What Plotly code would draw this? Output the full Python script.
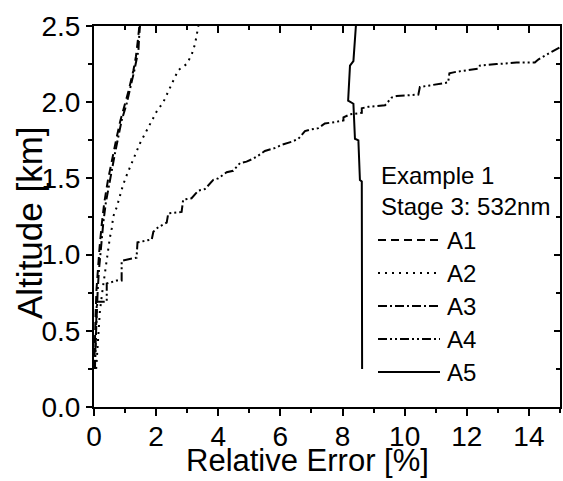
import plotly.graph_objects as go

# Relative error [%] versus altitude [km] for the five retrievals
series_names = ["A1", "A2", "A3", "A4", "A5"]

alt_a1 = [0.25, 0.40, 0.60, 0.77, 0.90, 1.05, 1.20, 1.34, 1.49, 1.67, 1.77, 1.88, 1.99, 2.08, 2.21, 2.30, 2.42, 2.50]
err_a1 = [0.01, 0.02, 0.05, 0.08, 0.12, 0.18, 0.25, 0.33, 0.45, 0.62, 0.73, 0.85, 1.00, 1.12, 1.27, 1.35, 1.42, 1.46]

alt_a2 = [0.25, 0.33, 0.42, 0.49, 0.57, 0.63, 0.76, 0.83, 0.90, 0.96, 1.04, 1.11, 1.17, 1.25, 1.31, 1.39, 1.46,
          1.53, 1.59, 1.66, 1.73, 1.80, 1.87, 1.94, 2.00, 2.07, 2.15, 2.21, 2.25, 2.31, 2.38, 2.44, 2.50]
err_a2 = [0.07, 0.09, 0.12, 0.14, 0.16, 0.19, 0.27, 0.32, 0.35, 0.41, 0.46, 0.51, 0.57, 0.62, 0.73, 0.84, 0.94,
          1.07, 1.19, 1.34, 1.48, 1.66, 1.83, 2.02, 2.23, 2.39, 2.55, 2.71, 2.98, 3.14, 3.25, 3.30, 3.36]

alt_a3 = [0.25, 0.31, 0.46, 0.62, 0.77, 0.90, 1.05, 1.21, 1.34, 1.49, 1.67, 1.77, 1.88, 1.99, 2.08, 2.21, 2.28, 2.34, 2.42, 2.50]
err_a3 = [0.02, 0.03, 0.05, 0.09, 0.12, 0.16, 0.22, 0.30, 0.38, 0.51, 0.68, 0.78, 0.89, 1.05, 1.16, 1.30, 1.37, 1.43, 1.45, 1.48]

alt_a4 = [0.25, 0.40, 0.55, 0.69, 0.69, 0.81, 0.83, 0.83, 0.96, 0.98, 1.08, 1.10, 1.15, 1.18, 1.21, 1.27, 1.28,
          1.36, 1.37, 1.42, 1.43, 1.49, 1.50, 1.54, 1.55, 1.60, 1.61, 1.63, 1.65, 1.68, 1.70, 1.72, 1.74, 1.76,
          1.81, 1.82, 1.83, 1.86, 1.87, 1.88, 1.90, 1.92, 1.93, 1.96, 1.97, 1.98, 2.03, 2.04, 2.05, 2.10, 2.11,
          2.13, 2.19, 2.20, 2.22, 2.24, 2.25, 2.26, 2.26, 2.28, 2.33, 2.36]
err_a4 = [0.03, 0.05, 0.08, 0.09, 0.41, 0.41, 0.73, 0.89, 0.89, 1.37, 1.40, 1.86, 1.91, 2.07, 2.34, 2.39, 2.82,
          2.87, 3.14, 3.36, 3.57, 3.84, 4.00, 4.27, 4.48, 4.70, 4.91, 5.13, 5.29, 5.50, 5.83, 6.04, 6.36, 6.58,
          6.79, 6.95, 7.22, 7.43, 7.76, 8.03, 8.03, 8.24, 8.62, 8.62, 8.83, 9.37, 9.58, 9.74, 10.44, 10.49, 10.81,
          11.40, 11.44, 11.67, 12.37, 12.42, 12.96, 13.60, 14.19, 14.30, 14.73, 15.00]

alt_a5 = [0.25, 1.48, 1.49, 1.75, 1.76, 1.99, 2.01, 2.24, 2.27, 2.50]
err_a5 = [8.63, 8.62, 8.56, 8.51, 8.40, 8.35, 8.18, 8.24, 8.35, 8.43]

errors = [err_a1, err_a2, err_a3, err_a4, err_a5]
altitudes = [alt_a1, alt_a2, alt_a3, alt_a4, alt_a5]

x_ticks = [0, 2, 4, 6, 8, 10, 12, 14]
y_ticks = [0.0, 0.5, 1.0, 1.5, 2.0, 2.5]

legend_header = ["Example 1", "Stage 3: 532nm"]

# line styles: dash, dot, dash-dot, dash-dot-dot, solid
dashes = ["8px,5px", "2px,5px", "9px,3px,2px,3px", "9px,3px,2px,3px,2px,3px", "solid"]

FONT = "Liberation Sans, Arial, sans-serif"

fig = go.Figure()
for name, xs, ys, dash in zip(series_names, errors, altitudes, dashes):
    fig.add_trace(go.Scatter(x=xs, y=ys, mode="lines", name=name,
                             line=dict(color="black", width=2, dash=dash),
                             showlegend=False, cliponaxis=True))

# empty traces so the mirrored top/right axes and the bottom tick axis are drawn
fig.add_trace(go.Scatter(x=[], y=[], xaxis="x2", yaxis="y2", showlegend=False))
fig.add_trace(go.Scatter(x=[], y=[], xaxis="x3", yaxis="y", showlegend=False))

axis_common = dict(showgrid=False, zeroline=False, linecolor="black",
                   linewidth=2, tickwidth=2,
                   tickfont=dict(family=FONT, size=28, color="black"))

fig.update_layout(
    width=563, height=481,
    margin=dict(l=94, r=3, t=26, b=74),
    paper_bgcolor="white", plot_bgcolor="white",
    # bottom axis: labels only; invisible short ticks set the label offset
    xaxis=dict(range=[0, 15], tickvals=x_ticks, ticks="outside", ticklen=4,
               tickcolor="rgba(0,0,0,0)", showline=False, **axis_common),
    # bottom axis: line and outward ticks
    xaxis3=dict(range=[0, 15], overlaying="x", side="bottom", anchor="y", tickvals=x_ticks,
                ticks="outside", ticklen=7, tickcolor="black", showticklabels=False, showline=True,
                minor=dict(dtick=1, ticks="outside", ticklen=4, tickcolor="black", tickwidth=2),
                **axis_common),
    yaxis=dict(range=[0, 2.5], tickvals=y_ticks, tickformat=".1f", ticks="outside", ticklen=6,
               tickcolor="black", showline=True,
               minor=dict(dtick=0.25, ticks="outside", ticklen=4, tickcolor="black", tickwidth=2),
               **axis_common),
    xaxis2=dict(range=[0, 15], overlaying="x", side="top", anchor="y2", tickvals=x_ticks,
                ticks="inside", ticklen=7, tickcolor="black", showticklabels=False, showline=True,
                minor=dict(dtick=1, ticks="inside", ticklen=4, tickcolor="black", tickwidth=2),
                **axis_common),
    yaxis2=dict(range=[0, 2.5], overlaying="y", side="right", anchor="x2", tickvals=y_ticks,
                ticks="inside", ticklen=6, tickcolor="black", showticklabels=False, showline=True,
                minor=dict(dtick=0.25, ticks="inside", ticklen=4, tickcolor="black", tickwidth=2),
                **axis_common),
)

annotations = [
    dict(text="Relative Error [%]", x=0.458, y=-0.192, xref="paper", yref="paper",
         xanchor="center", yanchor="bottom", showarrow=False,
         font=dict(family=FONT, size=31, color="black")),
    dict(text="Altitude [km]", x=-0.14, y=0.485, xref="paper", yref="paper",
         xanchor="center", yanchor="middle", textangle=-90, showarrow=False,
         font=dict(family=FONT, size=35, color="black")),
]

# legend block drawn inside the plot frame
plot_l, plot_w, plot_b, plot_h = 94, 466, 407, 381
def px_to_paper(px, py):
    return (px - plot_l) / plot_w, (plot_b - py) / plot_h

for i, text in enumerate(legend_header):
    px, py = px_to_paper(379, 175 + 31 * i)
    annotations.append(dict(text=text, x=px, y=py, xref="paper", yref="paper",
                            xanchor="left", yanchor="middle", showarrow=False,
                            font=dict(family=FONT, size=24, color="black")))

shapes = []
for i, (name, dash) in enumerate(zip(series_names, dashes)):
    row_y = 240 + 33 * i
    x0, y0 = px_to_paper(378, row_y)
    x1, _ = px_to_paper(440, row_y)
    shapes.append(dict(type="line", xref="paper", yref="paper", x0=x0, x1=x1, y0=y0, y1=y0,
                       line=dict(color="black", width=2, dash=dash)))
    tx, _ = px_to_paper(445, row_y)
    annotations.append(dict(text=name, x=tx, y=y0, xref="paper", yref="paper",
                            xanchor="left", yanchor="middle", showarrow=False,
                            font=dict(family=FONT, size=24, color="black")))

fig.update_layout(annotations=annotations, shapes=shapes)
fig.write_html("out.html")
